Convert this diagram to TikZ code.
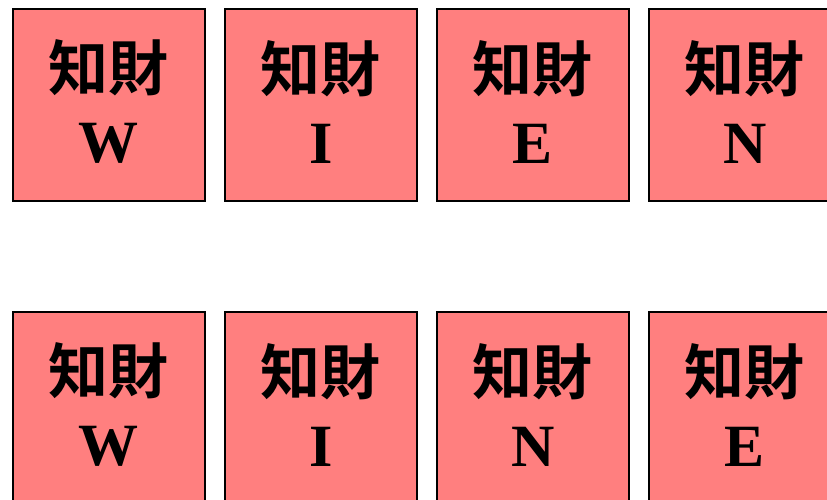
\documentclass[tikz,border=0pt]{standalone}
\usepackage{fontspec}
\setmainfont{Liberation Serif}
\newfontfamily\cjk{Noto Sans CJK JP}[BoldFont={Noto Sans CJK JP Bold}]
\definecolor{boxred}{HTML}{FF7F7F}
\tikzset{
  card/.style={draw=black, line width=1.7pt, fill=boxred, minimum width=192pt, minimum height=192pt,
    inner sep=0pt, anchor=north west},
  cardtxt/.style={inner sep=0pt, align=center, font=\bfseries\fontsize{60}{74}\selectfont, yshift=3pt},
}
\newcommand{\cardtext}[1]{{\cjk\bfseries 知財}\\[-2pt]#1}
\begin{document}
\begin{tikzpicture}[x=1pt,y=-1pt]
\useasboundingbox (0,0) rectangle (827,500);
\clip (0,0) rectangle (827,500);
\node[card] (a1) at (12,8) {};
\node[card] (a2) at (224,8) {};
\node[card] (a3) at (436,8) {};
\node[card] (a4) at (648,8) {};
\node[card] (b1) at (12,311) {};
\node[card] (b2) at (224,311) {};
\node[card] (b3) at (436,311) {};
\node[card] (b4) at (648,311) {};
\node[cardtxt] (ta1) at (a1.center) {\cardtext{W}};
\node[cardtxt] (ta2) at (a2.center) {\cardtext{I}};
\node[cardtxt] (ta3) at (a3.center) {\cardtext{E}};
\node[cardtxt] (ta4) at (a4.center) {\cardtext{N}};
\node[cardtxt] (tb1) at (b1.center) {\cardtext{W}};
\node[cardtxt] (tb2) at (b2.center) {\cardtext{I}};
\node[cardtxt] (tb3) at (b3.center) {\cardtext{N}};
\node[cardtxt] (tb4) at (b4.center) {\cardtext{E}};
\end{tikzpicture}
\end{document}
